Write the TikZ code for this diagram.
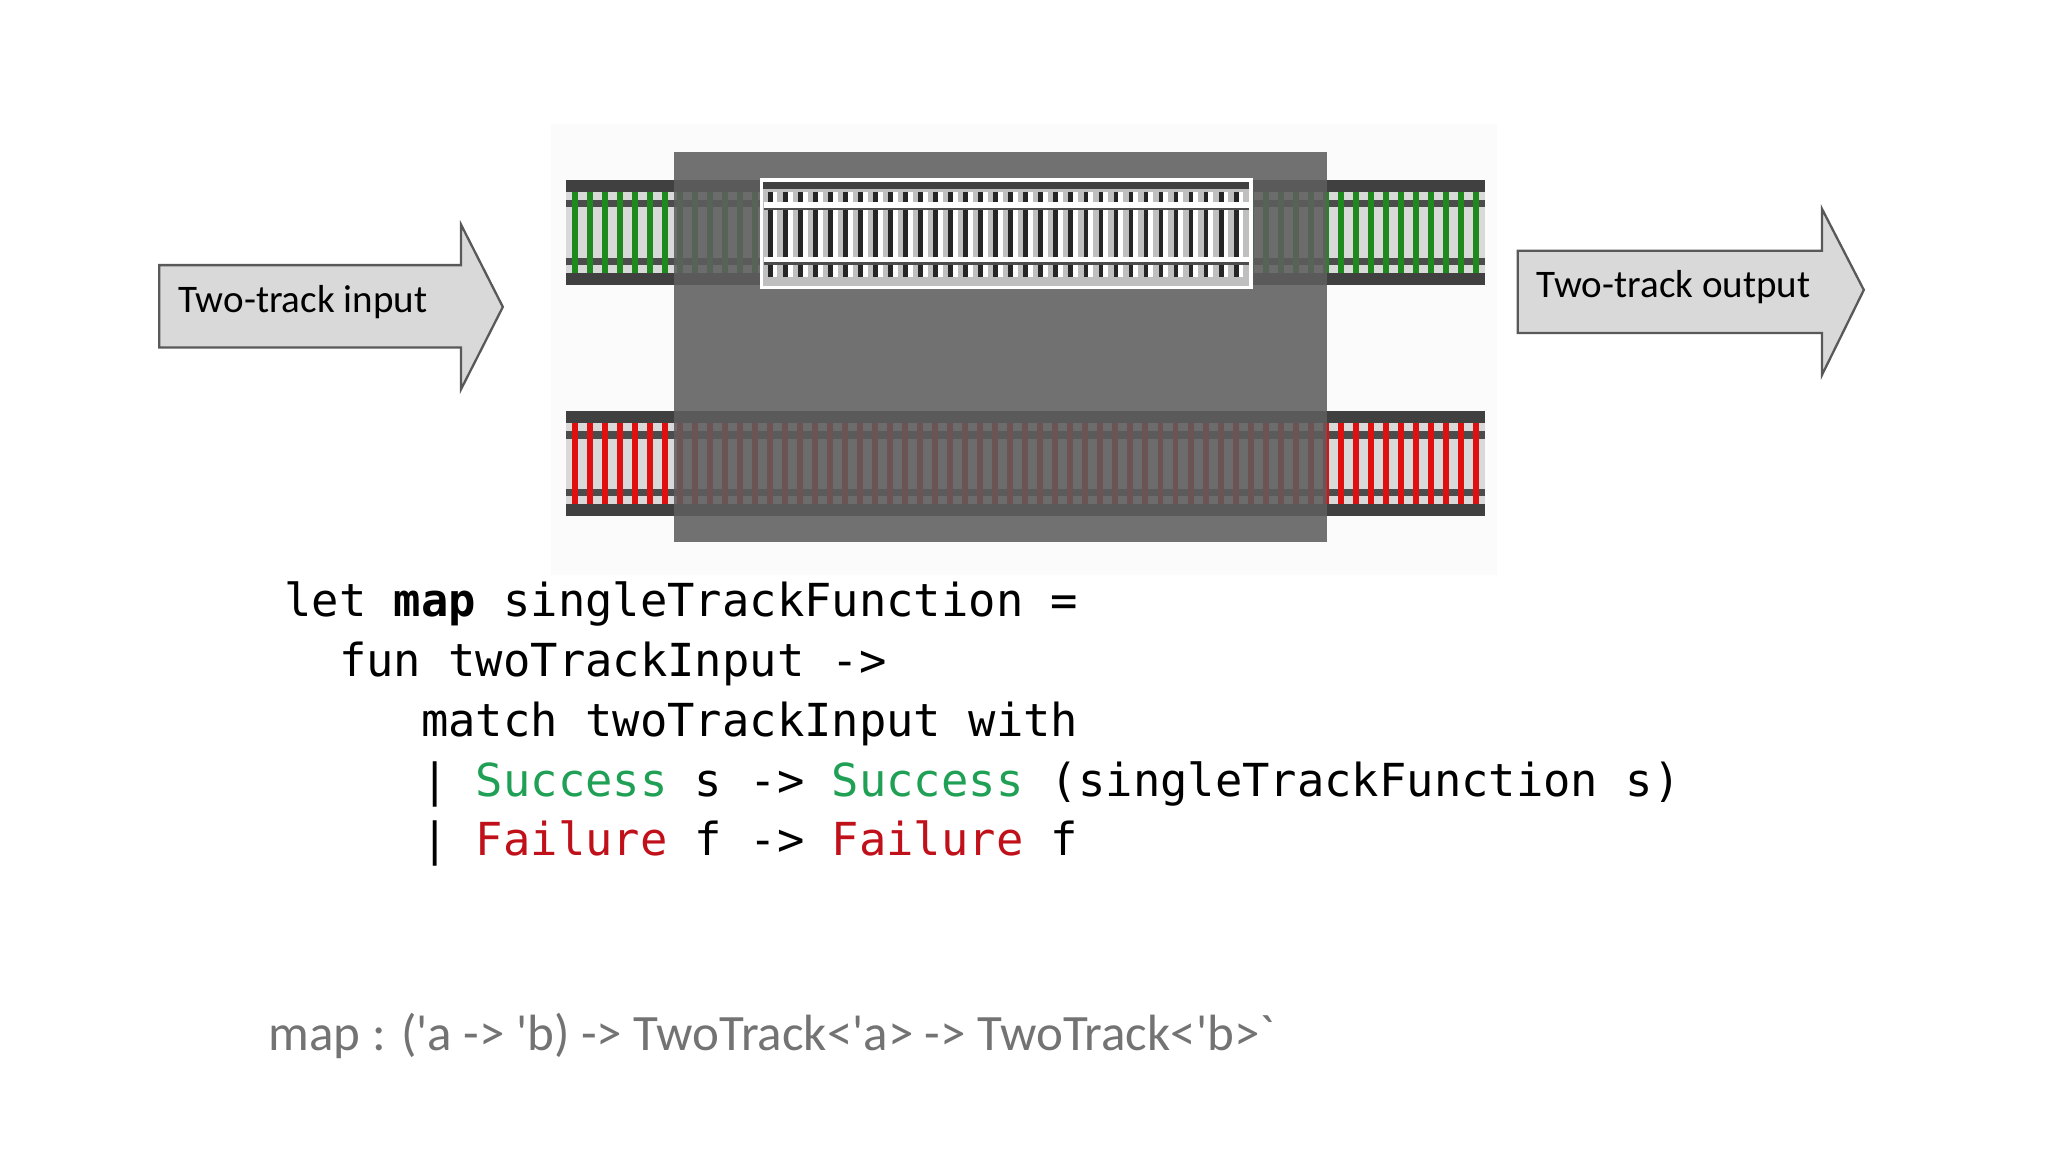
\documentclass[tikz,border=0pt]{standalone}
\usepackage{fontspec}
\setmainfont{Carlito}
\newfontfamily\codefont{DejaVu Sans Mono}
\definecolor{sgreen}{HTML}{1FA055}
\definecolor{sred}{HTML}{C0101A}
\definecolor{tiegreen}{HTML}{1E8A1E}
\definecolor{tiered}{HTML}{E01010}
\definecolor{boxgray}{HTML}{5E5E5E}
\begin{document}
\begin{tikzpicture}[x=0.01cm,y=-0.01cm,
  arrowshape/.style={fill=black!15,draw=black!65,line width=0.5pt},
  lbl/.style={font=\fontsize{8.5pt}{10pt}\selectfont,anchor=west,inner sep=0},
  code/.style={font=\codefont\fontsize{9.9pt}{13pt}\selectfont,anchor=base west,inner sep=0}]
\useasboundingbox (0,0) rectangle (1568,882);
\fill[black!1.5] (422,95) rectangle (1146,440);
% tracks
\foreach \yt/\tc in {138/tiegreen,315/tiered}{
  \fill[black!75] (433,\yt) rectangle (1137,\yt+80);
  \fill[black!15] (433,\yt+9) rectangle (1137,\yt+71);
  \draw[black!70,line width=1.6pt] (433,\yt+18)--(1137,\yt+18);
  \draw[black!70,line width=1.6pt] (433,\yt+62)--(1137,\yt+62);
  \foreach \x in {440,451.5,...,1134}
    \draw[\tc,line width=1.3pt] (\x,\yt+9)--(\x,\yt+71);
}
% gray box overlay
\fill[boxgray,opacity=0.88] (516,116) rectangle (1016,415);
% centre panel
\fill[black!25] (583,138) rectangle (958,220);
\fill[black!75] (583,138) rectangle (958,145);
\foreach \x in {590,601.5,...,955}{
  \draw[black!85,line width=1.1pt] (\x,147)--(\x,212);
  \draw[white,line width=1pt] (\x+3.5,147)--(\x+3.5,212);
}
\draw[white,line width=1.2pt] (585,157)--(956,157);
\draw[black!70,line width=0.6pt] (585,160)--(956,160);
\draw[white,line width=1.2pt] (585,199)--(956,199);
\draw[black!70,line width=0.6pt] (585,202)--(956,202);
\draw[white,line width=0.8pt] (583,138) rectangle (958,220);
% arrows
\draw[arrowshape] (122,203)--(353,203)--(353,172)--(385,235)--(353,298)--(353,266)--(122,266)--cycle;
\node[lbl] (inl) at (136,231) {Two-track input};
\draw[arrowshape] (1162,192)--(1395,192)--(1395,160)--(1427,222)--(1395,287)--(1395,255)--(1162,255)--cycle;
\node[lbl] (outl) at (1176,220) {Two-track output};
% code
\node[code] (c1) at (217,472) {let \textbf{map} singleTrackFunction =};
\node[code] (c2) at (217,518) {\ \ fun twoTrackInput ->};
\node[code] (c3) at (217,564) {\ \ \ \ \ match twoTrackInput with};
\node[code] (c4) at (217,610) {\ \ \ \ \ | \textcolor{sgreen}{Success} s -> \textcolor{sgreen}{Success} (singleTrackFunction s)};
\node[code] (c5) at (217,655) {\ \ \ \ \ | \textcolor{sred}{Failure} f -> \textcolor{sred}{Failure} f};
\node[anchor=base west,inner sep=0,text=black!55,font=\fontsize{11.1pt}{13pt}\selectfont] (sig) at (205,804) {map : (\textquotesingle a -> \textquotesingle b) -> TwoTrack<\textquotesingle a> -> TwoTrack<\textquotesingle b>\textasciigrave};
\end{tikzpicture}
\end{document}
